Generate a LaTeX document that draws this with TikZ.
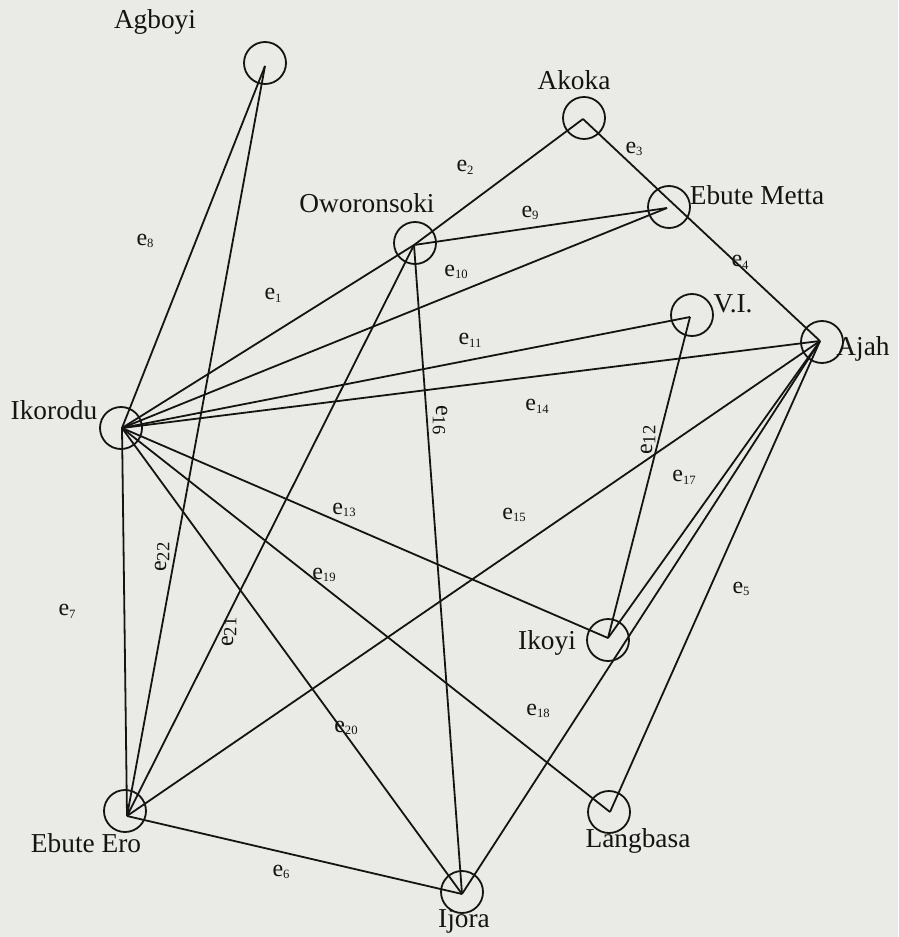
\documentclass[tikz,border=0pt]{standalone}
\usepackage{fontspec}
\setmainfont{Liberation Serif}
\definecolor{paper}{RGB}{234,234,231}
\definecolor{ink}{RGB}{20,20,20}
\newcommand\subsm[1]{\raisebox{-0.25ex}{\fontsize{9.5}{10}\selectfont #1}}
\newcommand\subbig[1]{\raisebox{-0.3ex}{\fontsize{14}{14}\selectfont #1}}
\begin{document}
\begin{tikzpicture}[x=0.75pt,y=-0.75pt,
  vtx/.style={circle,draw=ink,line width=1.35pt,minimum size=31.5pt,inner sep=0pt},
  link/.style={draw=ink,line width=1.35pt},
  city/.style={text=ink,font=\fontsize{20.5}{22}\selectfont,inner sep=0pt},
  elab/.style={text=ink,font=\fontsize{18}{20}\selectfont,inner sep=0pt}]
\useasboundingbox (0,0) rectangle (898,937);
\fill[paper] (0,0) rectangle (898,937);

% circles
\node[vtx] (cAgboyi) at (265,63) {};
\node[vtx] (cAkoka) at (584,118) {};
\node[vtx] (cEbMetta) at (669,207) {};
\node[vtx] (cOwor) at (415,243) {};
\node[vtx] (cVI) at (692,315) {};
\node[vtx] (cAjah) at (822,342) {};
\node[vtx] (cIkorodu) at (121,428) {};
\node[vtx] (cIkoyi) at (608,640) {};
\node[vtx] (cLangbasa) at (609,812) {};
\node[vtx] (cIjora) at (462,892) {};
\node[vtx] (cEbEro) at (125,811) {};

% meeting points of the connectors
\coordinate (agboyi) at (265,66);
\coordinate (akoka) at (583,119);
\coordinate (ebmetta) at (667,208);
\coordinate (emline) at (667,198);
\coordinate (owor) at (414,245);
\coordinate (vi) at (690,317);
\coordinate (ajah) at (820,341);
\coordinate (ikorodu) at (122,428);
\coordinate (ikoyi) at (608,638);
\coordinate (langbasa) at (610,812);
\coordinate (ijora) at (462,894);
\coordinate (ebero) at (127,816);

% connectors
\draw[link] (ikorodu) -- (owor);      % e1
\draw[link] (akoka) -- (owor);        % e2
\draw[link] (akoka) -- (emline);      % e3
\draw[link] (emline) -- (ajah);       % e4
\draw[link] (ajah) -- (langbasa);     % e5
\draw[link] (ebero) -- (ijora);       % e6
\draw[link] (ikorodu) -- (ebero);     % e7
\draw[link] (agboyi) -- (ikorodu);    % e8
\draw[link] (owor) -- (ebmetta);      % e9
\draw[link] (ikorodu) -- (ebmetta);   % e10
\draw[link] (ikorodu) -- (vi);        % e11
\draw[link] (vi) -- (ikoyi);          % e12
\draw[link] (ikorodu) -- (ikoyi);     % e13
\draw[link] (ikorodu) -- (ajah);      % e14
\draw[link] (ajah) -- (ebero);        % e15
\draw[link] (owor) -- (ijora);        % e16
\draw[link] (ajah) -- (ikoyi);        % e17
\draw[link] (ajah) -- (ijora);        % e18
\draw[link] (ikorodu) -- (langbasa);  % e19
\draw[link] (ikorodu) -- (ijora);     % e20
\draw[link] (owor) -- (ebero);        % e21
\draw[link] (agboyi) -- (ebero);      % e22

% place names
\node[city] (tAgboyi) at (155,22) {Agboyi};
\node[city] (tAkoka) at (574,80) {Akoka};
\node[city] (tOwor) at (367,203) {Oworonsoki};
\node[city] (tEbMetta) at (757,195) {Ebute Metta};
\node[city] (tVI) at (733,304) {V.I.};
\node[city] (tAjah) at (863,349) {Ajah};
\node[city] (tIkorodu) at (54,410) {Ikorodu};
\node[city] (tIkoyi) at (547,643) {Ikoyi};
\node[city] (tLangbasa) at (638,841) {Langbasa};
\node[city] (tIjora) at (464,921) {Ijora};
\node[city] (tEbEro) at (86,843) {Ebute Ero};

% edge labels
\node[elab] (l8) at (145,241) {e\subsm{8}};
\node[elab] (l1) at (273,295) {e\subsm{1}};
\node[elab] (l2) at (465,167) {e\subsm{2}};
\node[elab] (l9) at (530,213) {e\subsm{9}};
\node[elab] (l10) at (456,272) {e\subsm{10}};
\node[elab] (l3) at (634,149) {e\subsm{3}};
\node[elab] (l4) at (740,262) {e\subsm{4}};
\node[elab] (l11) at (470,340) {e\subsm{11}};
\node[elab] (l14) at (537,406) {e\subsm{14}};
\node[elab,rotate=-90] (l16) at (440,420) {e\subbig{16}};
\node[elab,rotate=90] (l12) at (648,440) {e\subbig{12}};
\node[elab] (l13) at (344,510) {e\subsm{13}};
\node[elab] (l15) at (514,515) {e\subsm{15}};
\node[elab] (l17) at (684,477) {e\subsm{17}};
\node[elab] (l5) at (741,589) {e\subsm{5}};
\node[elab] (l19) at (324,575) {e\subsm{19}};
\node[elab,rotate=90] (l22) at (162,557) {e\subbig{22}};
\node[elab,rotate=90] (l21) at (229,632) {e\subbig{21}};
\node[elab] (l7) at (67,611) {e\subsm{7}};
\node[elab] (l20) at (346,728) {e\subsm{20}};
\node[elab] (l18) at (538,711) {e\subsm{18}};
\node[elab] (l6) at (281,872) {e\subsm{6}};
\end{tikzpicture}
\end{document}
